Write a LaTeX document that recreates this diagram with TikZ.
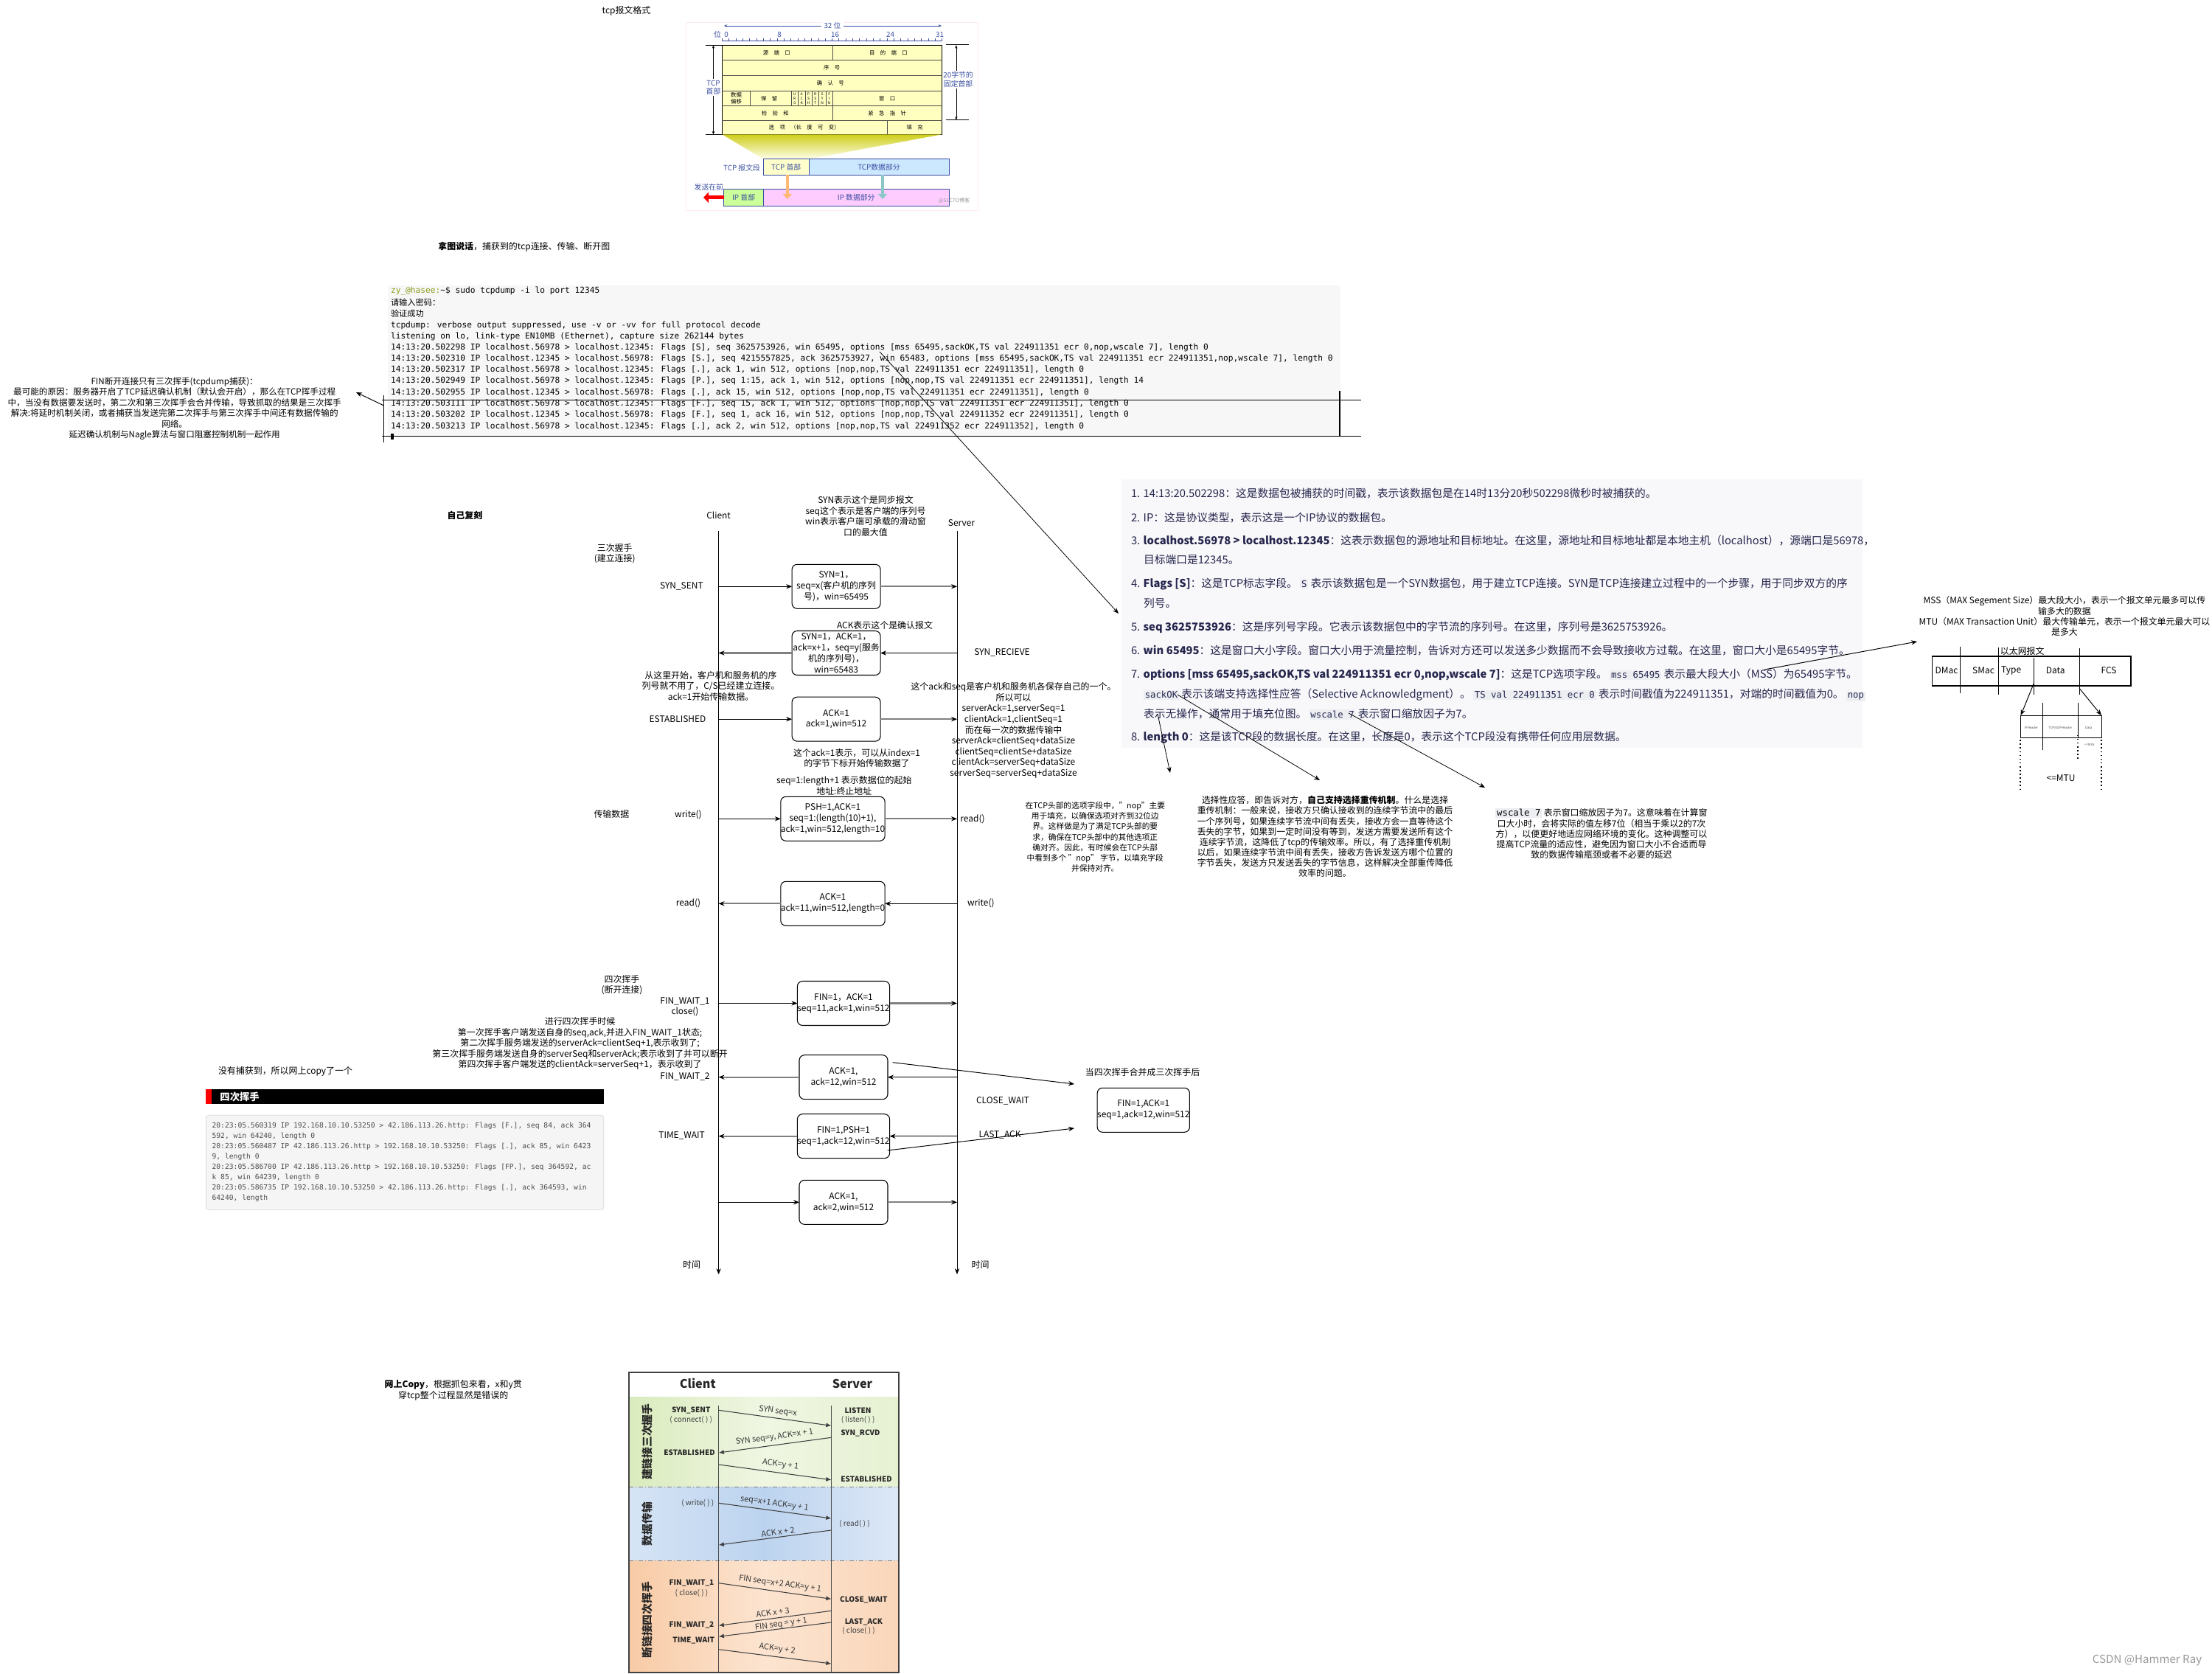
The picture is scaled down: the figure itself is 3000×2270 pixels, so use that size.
\documentclass[tikz,border=0pt]{standalone}
\usepackage{fontspec}
\setmainfont{Noto Sans CJK SC}
\newfontfamily\monofont{DejaVu Sans Mono}
\newfontfamily\cjkfont{Noto Sans CJK SC}
\usetikzlibrary{arrows.meta,calc}
\definecolor{hdrblue}{HTML}{3A4FA0}
\definecolor{tblyel}{HTML}{FFFFC0}
\definecolor{tcphdr}{HTML}{FFFFCC}
\definecolor{tcpdata}{HTML}{CCE8FF}
\definecolor{iphdr}{HTML}{CCFF99}
\definecolor{ipdata}{HTML}{FFCCFF}
\definecolor{termbg}{HTML}{F7F7F7}
\definecolor{termgreen}{HTML}{8C9C1C}
\definecolor{rtext}{HTML}{25254D}
\definecolor{codebg}{HTML}{ECEEF2}
\definecolor{rbg}{HTML}{F8F8FA}
\definecolor{bandg1}{HTML}{DAEBBD}
\definecolor{bandg2}{HTML}{E6F1D2}
\definecolor{bandgm}{HTML}{EFF6E2}
\definecolor{bandb1}{HTML}{D6E4F5}
\definecolor{bandb2}{HTML}{DDE8F6}
\definecolor{bandbm}{HTML}{BCD3EF}
\definecolor{bando1}{HTML}{F8CBA6}
\definecolor{bando2}{HTML}{F9D6BA}
\definecolor{bandom}{HTML}{FCE4D0}
\newcommand\fpx[2]{\fontsize{#1pt}{#2pt}\selectfont}
\newcommand\cspan[1]{{\setlength{\fboxsep}{1pt}\colorbox{codebg}{\monofont\fontsize{7pt}{8pt}\selectfont #1}}}
\tikzset{
  t12/.style={font=\fpx{6.8}{8.3}, align=center},
  t11/.style={font=\fpx{6.1}{8.1}, align=center},
  box/.style={draw, rounded corners=4pt, line width=0.6pt, align=center, font=\fpx{6.8}{8.5}, minimum width=2.4cm, minimum height=1.2cm},
  arr/.style={-{Stealth[length=4.5pt,width=3.6pt]}, line width=0.55pt},
  garr/.style={-{Stealth[length=4.5pt,width=3.6pt,color=black]}, draw=gray, line width=1.3pt},
  life/.style={-{Stealth[length=4.5pt,width=3.6pt]}, line width=0.5pt},
  term/.style={font=\monofont\fpx{6.38}{8}, anchor=west},
  capline/.style={font=\monofont\fpx{5.5}{7}, anchor=west, text=black!70},
  rt/.style={font=\fpx{8.4}{10}, anchor=west, text=rtext},
  tt/.style={font=\fpx{4.2}{5}, align=center},
  fl/.style={font=\fpx{2.8}{3.4}, align=center},
  hl/.style={font=\fpx{5.6}{6.4}, align=center, text=hdrblue},
  harr/.style={{Stealth[length=2.5pt,width=2pt]}-{Stealth[length=2.5pt,width=2pt]}, line width=0.35pt},
  bl/.style={font=\bfseries\fpx{5.7}{6.5}, text=black!85},
  bn/.style={font=\fpx{5.7}{6.5}, text=black!75},
  al/.style={font=\fpx{6.2}{7}, text=black!80},
  barr/.style={-{Latex[length=4pt,width=3.5pt]}, line width=0.6pt, draw=black!75},
  eth/.style={font=\fpx{6.8}{8}},
}
\begin{document}
\begin{tikzpicture}[x=0.02cm,y=-0.02cm, every node/.style={inner sep=0pt, outer sep=0pt}]
\useasboundingbox (0,0) rectangle (3000,2270);
\fill[white] (0,0) rectangle (3000,2270);

% ================= TCP header figure =================
\node[t12] (ttl) at (849.5,15) {tcp报文格式};
\draw[red!8, line width=0.4pt] (930.7,30) rectangle (1326,285);
\coordinate (h32l) at (981.8,35); \coordinate (h32r) at (1277,35);
\draw[harr, draw=hdrblue] (h32l) -- (h32r);
\node[hl, fill=white, inner xsep=2pt] (h32) at (1129,35) {32 位};
\node[hl] (nw) at (973,46.7) {位};
\node[hl] (n0) at (985,46.7) {0};
\node[hl] (n8) at (1057,46.7) {8};
\node[hl] (n16) at (1132.5,46.7) {16};
\node[hl] (n24) at (1207.5,46.7) {24};
\node[hl] (n31) at (1274.6,46.7) {31};
\draw[line width=0.35pt, hdrblue] (979.3,55) -- (1277.5,55);
\foreach \i in {0,...,32} \draw[line width=0.3pt, hdrblue] (979.3+\i*9.32,55) -- ++(0,-3);
% table
\fill[tblyel] (979.3,61.3) rectangle (1277.5,182.3);
\draw[line width=0.8pt] (979.3,61.3) rectangle (1277.5,182.3);
\foreach \y in {81.3,102.3,123.3,143.3,163.3} \draw[line width=0.4pt, black!70] (979.3,\y) -- (1277.5,\y);
\draw[line width=0.4pt, black!70] (1129.3,61.3) -- (1129.3,81.3);
\draw[line width=0.4pt, black!70] (1129.3,143.3) -- (1129.3,163.3);
\draw[line width=0.4pt, black!70] (1017,123.3) -- (1017,143.3);
\foreach \i in {0,...,6} \draw[line width=0.3pt, black!70] (1073+\i*9.38,123.3) -- ++(0,20);
\draw[line width=0.4pt, black!70] (1203,163.3) -- (1203,182.3);
\node[tt] (f1) at (1053.2,71.3) {源　端　口};
\node[tt] (f2) at (1205,71.3) {目　的　端　口};
\node[tt] (f3) at (1128.2,91.8) {序　号};
\node[tt] (f4) at (1126.4,112.8) {确　认　号};
\node[tt] (f5) at (998.6,133.3) {数据\\偏移};
\node[tt] (f6) at (1043.2,133.3) {保　留};
\node[fl] (fg1) at (1077.7,133.3) {U\\R\\G};
\node[fl] (fg2) at (1087.1,133.3) {A\\C\\K};
\node[fl] (fg3) at (1096.5,133.3) {P\\S\\H};
\node[fl] (fg4) at (1105.8,133.3) {R\\S\\T};
\node[fl] (fg5) at (1115.2,133.3) {S\\Y\\N};
\node[fl] (fg6) at (1124.6,133.3) {F\\I\\N};
\node[tt] (f7) at (1203.2,133.3) {窗　口};
\node[tt] (f8) at (1051.4,153.3) {检　验　和};
\node[tt] (f9) at (1203.2,153.3) {紧　急　指　针};
\node[tt] (f10) at (1090.7,172.8) {选　项　（长　度　可　变）};
\node[tt] (f11) at (1240.7,172.8) {填　充};
% left brace
\draw[line width=0.4pt] (956.8,61.3) -- (979.3,61.3);
\draw[line width=0.4pt] (956.8,182.3) -- (979.3,182.3);
\coordinate (tlt) at (967.5,61.3); \coordinate (tlb) at (967.5,182.3);
\draw[harr] (tlt) -- (tlb);
\node[hl, fill=white, inner ysep=1pt] (tcphl) at (967.5,118.5) {TCP\\首部};
% right brace
\draw[line width=0.4pt] (1282.5,60.7) -- (1314,60.7);
\draw[line width=0.4pt] (1282.5,162.7) -- (1314,162.7);
\coordinate (trt) at (1296.8,61.3); \coordinate (trb) at (1296.8,162.7);
\draw[harr] (trt) -- (trb);
\node[hl, fill=white, inner ysep=1pt] (fixhl) at (1299.6,107.7) {20字节的\\固定首部};
% trapezoid
\shade[top color=olive!55!yellow!70, bottom color=yellow!8] (979.3,182.3) -- (1277.5,182.3) -- (1097,215.7) -- (1035.4,215.7) -- cycle;
% segment bars
\node[draw=hdrblue, fill=tcphdr, line width=0.5pt, minimum width=1.232cm, minimum height=0.432cm, hl] (tcph) at (1066.2,226.5) {TCP 首部};
\node[draw=hdrblue, fill=tcpdata, line width=0.5pt, minimum width=3.8cm, minimum height=0.432cm, hl] (tcpd) at (1192,226.5) {TCP数据部分};
\node[hl, anchor=east] (seglbl) at (1031,228) {TCP 报文段};
\node[draw=hdrblue, fill=iphdr, line width=0.5pt, minimum width=1.072cm, minimum height=0.446cm, hl] (iph) at (1008.6,267.85) {IP 首部};
\node[draw=hdrblue, fill=ipdata, line width=0.5pt, minimum width=5.032cm, minimum height=0.446cm, hl] (ipd) at (1161.2,267.85) {IP 数据部分};
\coordinate (oa1) at (1067.9,237.3); \coordinate (oa2) at (1067.9,270);
\coordinate (ta1) at (1197,237.3); \coordinate (ta2) at (1197,270);
\draw[orange!55, line width=2.2pt, -{Triangle[length=4pt,width=7pt]}] (oa1) -- (oa2);
\draw[teal!45, line width=2.2pt, -{Triangle[length=4pt,width=7pt]}] (ta1) -- (ta2);
\coordinate (ra) at (954,267.85);
\draw[red, line width=3pt, -{Triangle[length=4pt,width=8pt]}] (iph.west) -- (ra);
\node[hl] (sendfirst) at (961.4,254) {发送在前};
\node[font=\fpx{4}{5}, text=black!40] (wm) at (1294,271.7) {@51CTO博客};

% ================= Caption =================
\node[font=\fpx{6.8}{8.3}, anchor=west] (cap1) at (594.4,334.5) {\textbf{拿图说话}，捕获到的tcp连接、传输、断开图};

% ================= Terminal =================
\fill[termbg] (526,387) rectangle (1818,593);
\node[term] (tl1) at (530,395) {\textcolor{termgreen}{zy\_@hasee:}\textasciitilde\$ sudo tcpdump -i lo port 12345};
\node[term] (tl2) at (530,410.5) {{\cjkfont 请输入密码：}};
\node[term] (tl3) at (530,425.5) {{\cjkfont 验证成功}};
\node[term] (tl4) at (530,441) {tcpdump: verbose output suppressed, use -v or -vv for full protocol decode};
\node[term] (tl5) at (530,456) {listening on lo, link-type EN10MB (Ethernet), capture size 262144 bytes};
\node[term] (tl6) at (530,471) {14:13:20.502298 IP localhost.56978 > localhost.12345: Flags [S], seq 3625753926, win 65495, options [mss 65495,sackOK,TS val 224911351 ecr 0,nop,wscale 7], length 0};
\node[term] (tl7) at (530,486.5) {14:13:20.502310 IP localhost.12345 > localhost.56978: Flags [S.], seq 4215557825, ack 3625753927, win 65483, options [mss 65495,sackOK,TS val 224911351 ecr 224911351,nop,wscale 7], length 0};
\node[term] (tl8) at (530,501.7) {14:13:20.502317 IP localhost.56978 > localhost.12345: Flags [.], ack 1, win 512, options [nop,nop,TS val 224911351 ecr 224911351], length 0};
\node[term] (tl9) at (530,516.8) {14:13:20.502949 IP localhost.56978 > localhost.12345: Flags [P.], seq 1:15, ack 1, win 512, options [nop,nop,TS val 224911351 ecr 224911351], length 14};
\node[term] (tl10) at (530,532.2) {14:13:20.502955 IP localhost.12345 > localhost.56978: Flags [.], ack 15, win 512, options [nop,nop,TS val 224911351 ecr 224911351], length 0};
\node[term] (tl11) at (530,547.5) {14:13:20.503111 IP localhost.56978 > localhost.12345: Flags [F.], seq 15, ack 1, win 512, options [nop,nop,TS val 224911351 ecr 224911351], length 0};
\node[term] (tl12) at (530,562.7) {14:13:20.503202 IP localhost.12345 > localhost.56978: Flags [F.], seq 1, ack 16, win 512, options [nop,nop,TS val 224911352 ecr 224911351], length 0};
\node[term] (tl13) at (530,578) {14:13:20.503213 IP localhost.56978 > localhost.12345: Flags [.], ack 2, win 512, options [nop,nop,TS val 224911352 ecr 224911352], length 0};
\node[fill=black, minimum width=0.09cm, minimum height=0.17cm] (cursor) at (532,592) {};
% bracket lines
\coordinate (bk1) at (518,542.3); \coordinate (bk2) at (1846,542.3);
\coordinate (bk3) at (518,591.7); \coordinate (bk4) at (1846,591.7);
\coordinate (bk5) at (520.6,536); \coordinate (bk6) at (520.6,600);
\coordinate (bk7) at (1817,530); \coordinate (bk8) at (1817,591.7);
\draw[line width=0.6pt] (bk1) -- (bk2);
\draw[line width=0.6pt] (bk3) -- (bk4);
\draw[line width=0.6pt] (bk5) -- (bk6);
\draw[line width=0.6pt] (bk7) -- (bk8);
\coordinate (la1) at (520.6,550); \coordinate (la2) at (483,532);
\draw[arr] (la1) -- (la2);
\coordinate (dg1) at (1193,477); \coordinate (dg2) at (1517,832);
\draw[arr, line width=0.45pt] (dg1) -- (dg2);

% left note
\node[font=\fpx{6.6}{8.2}, align=center] (lnote) at (236.7,554) {FIN断开连接只有三次挥手(tcpdump捕获)：\\最可能的原因：服务器开启了TCP延迟确认机制（默认会开启），那么在TCP挥手过程\\中，当没有数据要发送时，第二次和第三次挥手会合并传输，导致抓取的结果是三次挥手\\解决:将延时机制关闭，或者捕获当发送完第二次挥手与第三次挥手中间还有数据传输的\\网络。\\延迟确认机制与Nagle算法与窗口阻塞控制机制一起作用};

% ================= Sequence diagram =================
\node[font=\bfseries\fpx{6.8}{8.3}] (self) at (630.4,699.3) {自己复刻};
\node[t12] (client) at (974.6,699.3) {Client};
\node[t12] (server) at (1304,709) {Server};
\coordinate (cT) at (974.6,720); \coordinate (cB) at (974.6,1728);
\coordinate (sT) at (1298,720); \coordinate (sB) at (1298,1728);
\draw[life] (cT) -- (cB);
\draw[life] (sT) -- (sB);
\node[t12] (synnote) at (1174,700) {SYN表示这个是同步报文\\seq这个表示是客户端的序列号\\win表示客户端可承载的滑动窗\\口的最大值};
\node[t12] (hs3) at (833.7,750.5) {三次握手\\(建立连接)};
\node[t12] (synsent) at (924.4,795) {SYN\_SENT};
\node[box] (b1) at (1134.1,795.3) {SYN=1，\\seq=x(客户机的序列\\号)，win=65495};
\draw[arr] (b1.west -| cT) -- (b1.west);
\draw[garr] (b1.east) -- (b1.east -| sT);
\node[t12] (acknote) at (1200,848.3) {ACK表示这个是确认报文};
\node[box] (b2) at (1134.1,885.5) {SYN=1，ACK=1，\\ack=x+1，seq=y(服务\\机的序列号)，\\win=65483};
\draw[arr] (b2.east -| sT) -- (b2.east);
\draw[garr] (b2.west) -- (b2.west -| cT);
\node[t12] (synrcv) at (1359,885) {SYN\_RECIEVE};
\node[t12] (fromhere) at (964,930.3) {从这里开始，客户机和服务机的序\\列号就不用了，C/S已经建立连接。\\ack=1开始传输数据。};
\node[t12] (estab) at (919,975) {ESTABLISHED};
\node[box] (b3) at (1134.1,975.2) {ACK=1\\ack=1,win=512};
\draw[arr] (b3.west -| cT) -- (b3.west);
\draw[garr] (b3.east) -- (b3.east -| sT);
\node[t12] (csnote) at (1374.5,990.3) {这个ack和seq是客户机和服务机各保存自己的一个。\\所以可以\\serverAck=1,serverSeq=1\\clientAck=1,clientSeq=1\\而在每一次的数据传输中\\serverAck=clientSeq+dataSize\\clientSeq=clientSe+dataSize\\clientAck=serverSeq+dataSize\\serverSeq=serverSeq+dataSize};
\node[t12] (ack1note) at (1162,1028) {这个ack=1表示，可以从index=1\\的字节下标开始传输数据了};
\node[t12] (seqnote) at (1144.8,1065.5) {seq=1:length+1 表示数据位的起始\\地址:终止地址};
\node[t12] (trans) at (829.4,1104.3) {传输数据};
\node[t12] (wr1) at (933.5,1105) {write()};
\node[box] (b4) at (1129.5,1110.3) {PSH=1,ACK=1\\seq=1:(length(10)+1),\\ack=1,win=512,length=10};
\draw[arr] (b4.west -| cT) -- (b4.west);
\draw[garr] (b4.east) -- (b4.east -| sT);
\node[t12] (rd1) at (1319,1110.7) {read()};
\node[t12] (rd2) at (933.5,1225) {read()};
\node[box] (b5) at (1129.5,1225.3) {ACK=1\\ack=11,win=512,length=0};
\draw[arr] (b5.east -| sT) -- (b5.east);
\draw[garr] (b5.west) -- (b5.west -| cT);
\node[t12] (wr2) at (1330.4,1225) {write()};
\node[t12] (hs4) at (843.5,1335.5) {四次挥手\\(断开连接)};
\node[t12] (fw1) at (929,1365.3) {FIN\_WAIT\_1\\close()};
\node[box] (b6) at (1144,1360.5) {FIN=1，ACK=1\\seq=11,ack=1,win=512};
\draw[arr] (b6.west -| cT) -- (b6.west);
\draw[garr] (b6.east) -- (b6.east -| sT);
\node[t12] (para4) at (786.6,1415) {进行四次挥手时候\\第一次挥手客户端发送自身的seq,ack,并进入FIN\_WAIT\_1状态;\\第二次挥手服务端发送的serverAck=clientSeq+1,表示收到了;\\第三次挥手服务端发送自身的serverSeq和serverAck;表示收到了并可以断开\\第四次挥手客户端发送的clientAck=serverSeq+1，表示收到了};
\node[t12] (fw2) at (929,1460) {FIN\_WAIT\_2};
\node[box] (b7) at (1144,1460.7) {ACK=1,\\ack=12,win=512};
\draw[arr] (b7.east -| sT) -- (b7.east);
\draw[garr] (b7.west) -- (b7.west -| cT);
\node[t12] (merge) at (1549.6,1454) {当四次挥手合并成三次挥手后};
\node[box] (b8) at (1550.8,1505.3) {FIN=1,ACK=1\\seq=1,ack=12,win=512};
\node[t12] (clw) at (1360,1492.7) {CLOSE\_WAIT};
\node[t12] (tw) at (924.6,1540) {TIME\_WAIT};
\node[box] (b9) at (1144,1540.7) {FIN=1,PSH=1\\seq=1,ack=12,win=512};
\draw[arr] (b9.east -| sT) -- (b9.east);
\draw[garr] (b9.west) -- (b9.west -| cT);
\node[t12] (lack) at (1356,1539.3) {LAST\_ACK};
\coordinate (m1s) at (1210.7,1440.7); \coordinate (m1e) at (1457,1470);
\draw[arr] (m1s) -- (m1e);
\coordinate (m2s) at (1203.7,1560); \coordinate (m2e) at (1457,1530);
\draw[arr] (m2s) -- (m2e);
\node[box] (b10) at (1144,1630.3) {ACK=1,\\ack=2,win=512};
\draw[arr] (b10.west -| cT) -- (b10.west);
\draw[garr] (b10.east) -- (b10.east -| sT);
\node[t12] (time1) at (938,1715) {时间};
\node[t12] (time2) at (1329.5,1715) {时间};

% ================= Four-wave capture =================
\node[t12] (nocap) at (387,1452.7) {没有捕获到，所以网上copy了一个};
\fill[black] (279.4,1477.3) rectangle (818.7,1496.7);
\fill[red] (279.4,1477.3) rectangle (286.6,1496.7);
\node[font=\bfseries\fpx{7.6}{9}, text=white, anchor=west] (fourbar) at (298.4,1487) {四次挥手};
\draw[gray!30, fill=gray!8, rounded corners=2pt] (279.4,1512.3) rectangle (818.7,1640.7);
\node[capline] (c1) at (287.6,1526.7) {20:23:05.560319 IP 192.168.10.10.53250 > 42.186.113.26.http: Flags [F.], seq 84, ack 364};
\node[capline] (c2) at (287.6,1540.7) {592, win 64240, length 0};
\node[capline] (c3) at (287.6,1555) {20:23:05.560487 IP 42.186.113.26.http > 192.168.10.10.53250: Flags [.], ack 85, win 6423};
\node[capline] (c4) at (287.6,1569) {9, length 0};
\node[capline] (c5) at (287.6,1583.3) {20:23:05.586700 IP 42.186.113.26.http > 192.168.10.10.53250: Flags [FP.], seq 364592, ac};
\node[capline] (c6) at (287.6,1596.7) {k 85, win 64239, length 0};
\node[capline] (c7) at (287.6,1611) {20:23:05.586735 IP 192.168.10.10.53250 > 42.186.113.26.http: Flags [.], ack 364593, win};
\node[capline] (c8) at (287.6,1625) {64240, length};

% ================= Right explanation block =================
\fill[rbg] (1521,650) rectangle (2526,1014);
\node[rt] (r1) at (1534,669.3) {1. 14:13:20.502298：这是数据包被捕获的时间戳，表示该数据包是在14时13分20秒502298微秒时被捕获的。};
\node[rt] (r2) at (1534,701.7) {2. IP：这是协议类型，表示这是一个IP协议的数据包。};
\node[rt] (r3) at (1534,733.3) {3. \textbf{localhost.56978 > localhost.12345}：这表示数据包的源地址和目标地址。在这里，源地址和目标地址都是本地主机（localhost），源端口是56978，};
\node[rt] (r3b) at (1551,759.3) {目标端口是12345。};
\node[rt] (r4) at (1534,791.7) {4. \textbf{Flags [S]}：这是TCP标志字段。 \cspan{S} 表示该数据包是一个SYN数据包，用于建立TCP连接。SYN是TCP连接建立过程中的一个步骤，用于同步双方的序};
\node[rt] (r4b) at (1551,818.3) {列号。};
\node[rt] (r5) at (1534,851) {5. \textbf{seq 3625753926}：这是序列号字段。它表示该数据包中的字节流的序列号。在这里，序列号是3625753926。};
\node[rt] (r6) at (1534,882.3) {6. \textbf{win 65495}：这是窗口大小字段。窗口大小用于流量控制，告诉对方还可以发送多少数据而不会导致接收方过载。在这里，窗口大小是65495字节。};
\node[rt] (r7) at (1534,915) {7. \textbf{options [mss 65495,sackOK,TS val 224911351 ecr 0,nop,wscale 7]}：这是TCP选项字段。 \cspan{mss 65495} 表示最大段大小（MSS）为65495字节。};
\node[rt] (r7b) at (1551,942.7) {\cspan{sackOK} 表示该端支持选择性应答（Selective Acknowledgment）。 \cspan{TS val 224911351 ecr 0} 表示时间戳值为224911351，对端的时间戳值为0。 \cspan{nop}};
\node[rt] (r7c) at (1551,968.3) {表示无操作，通常用于填充位图。 \cspan{wscale 7} 表示窗口缩放因子为7。};
\node[rt] (r8) at (1534,1000) {8. \textbf{length 0}：这是该TCP段的数据长度。在这里，长度是0，表示这个TCP段没有携带任何应用层数据。};

% pointers to notes
\coordinate (pa1) at (1570,968); \coordinate (pa2) at (1587,1048);
\coordinate (pb1) at (1597,942); \coordinate (pb2) at (1790,1058);
\coordinate (pc1) at (1829,967); \coordinate (pc2) at (2014,1068);
\draw[arr, line width=0.45pt] (pa1) -- (pa2);
\draw[arr, line width=0.45pt] (pb1) -- (pb2);
\draw[arr, line width=0.45pt] (pc1) -- (pc2);

% notes
\node[t11] (nopnote) at (1485.3,1135) {在TCP头部的选项字段中，"nop"主要\\用于填充，以确保选项对齐到32位边\\界。这样做是为了满足TCP头部的要\\求，确保在TCP头部中的其他选项正\\确对齐。因此，有时候会在TCP头部\\中看到多个 "nop" 字节，以填充字段\\并保持对齐。};
\node[font=\fpx{6.8}{8}, align=center] (sacknote) at (1797,1134.5) {选择性应答，即告诉对方，\textbf{自己支持选择重传机制}。什么是选择\\重传机制：一般来说，接收方只确认接收到的连续字节流中的最后\\一个序列号，如果连续字节流中间有丢失，接收方会一直等待这个\\丢失的字节，如果到一定时间没有等到，发送方需要发送所有这个\\连续字节流，这降低了tcp的传输效率。所以，有了选择重传机制\\以后，如果连续字节流中间有丢失，接收方告诉发送方哪个位置的\\字节丢失，发送方只发送丢失的字节信息，这样解决全部重传降低\\效率的问题。};
\node[font=\fpx{6.8}{8}, align=center] (wsnote) at (2172,1130) {\cspan{wscale 7} 表示窗口缩放因子为7。这意味着在计算窗\\口大小时，会将实际的值左移7位（相当于乘以2的7次\\方），以便更好地适应网络环境的变化。这种调整可以\\提高TCP流量的适应性，避免因为窗口大小不合适而导\\致的数据传输瓶颈或者不必要的延迟};

% ================= MSS / Ethernet =================
\node[font=\fpx{6.8}{8.1}, align=center] (mssnote) at (2800,835.5) {MSS（MAX Segement Size）最大段大小，表示一个报文单元最多可以传\\输多大的数据\\MTU（MAX Transaction Unit）最大传输单元，表示一个报文单元最大可以\\是多大};
\coordinate (ms1) at (2393,908); \coordinate (ms2) at (2600,870);
\draw[arr] (ms1) -- (ms2);
\node[eth] (ethlbl) at (2742.7,882.7) {以太网报文};
\node[draw, line width=0.6pt, minimum width=5.4cm, minimum height=0.8cm] (ethf) at (2755,910) {};
\draw[line width=0.5pt] (2658.3,877.3) -- (2658.3,940);
\draw[line width=0.5pt] (2710.7,878) -- (2710.7,941.7);
\draw[line width=0.5pt] (2758.3,891.7) -- (2758.3,941.7);
\draw[line width=0.5pt] (2820,879) -- (2820,941.7);
\node[eth] (e1) at (2640,909.3) {DMac};
\node[eth] (e2) at (2690,909.3) {SMac};
\node[eth] (e3) at (2727.7,909.3) {Type};
\node[eth] (e4) at (2787.7,909.3) {Data};
\node[eth] (e5) at (2860,909.3) {FCS};
\node[draw, line width=0.5pt, minimum width=2.186cm, minimum height=0.6cm] (segb) at (2795.35,985) {};
\coordinate (ea1) at (2758.3,926.7); \coordinate (ea2) at (2820,933.3);
\draw[arr] (ea1) -- (segb.north west);
\draw[arr] (ea2) -- (segb.north east);
\draw[line width=0.4pt] (2770,953.3) -- (2770,1016.7);
\draw[line width=0.4pt] (2818.3,953.3) -- (2818.3,1000);
\node[font=\fpx{2.4}{3}, text=black!70] (s1) at (2755,986.7) {IPHeader};
\node[font=\fpx{2.4}{3}, text=black!70] (s2) at (2794.3,986.7) {TCP/UDPHeader};
\node[font=\fpx{2.4}{3}, text=black!70] (s3) at (2832.7,986.7) {Data};
\node[font=\fpx{2.4}{3}, text=black!70] (s4) at (2834,1010) {<=MSS};
\draw[dotted, line width=0.9pt] (2740,1003.3) -- (2740,1070);
\draw[dotted, line width=0.9pt] (2850,1003.3) -- (2850,1070);
\draw[dotted, line width=0.9pt] (2817.7,996.7) -- (2817.7,1030);
\node[eth] (mtu) at (2795,1055) {<=MTU};

% ================= Bottom copied diagram =================
\node[t12] (copynote) at (614.7,1885.5) {\textbf{网上Copy}，根据抓包来看，x和y贯\\穿tcp整个过程显然是错误的};
\fill[white] (853.4,1860.7) rectangle (1219.4,1894);
\shade[left color=bandg1, right color=bandg2, middle color=bandgm] (853.4,1894) rectangle (1219.4,2016.7);
\shade[left color=bandb1, right color=bandb2, middle color=bandbm] (853.4,2016.7) rectangle (1219.4,2116);
\shade[left color=bando1, right color=bando2, middle color=bandom] (853.4,2116) rectangle (1219.4,2268.3);
\draw[dash dot, gray, line width=0.5pt] (853.4,2016.7) -- (1219.4,2016.7);
\draw[dash dot, gray, line width=0.5pt] (853.4,2116) -- (1219.4,2116);
\draw[line width=1.1pt, black!75] (853.4,1860.7) rectangle (1219.4,2268.3);
\node[font=\bfseries\fpx{9.2}{10}, text=black!85] (bclient) at (946.3,1876) {Client};
\node[font=\bfseries\fpx{9.2}{10}, text=black!85] (bserver) at (1156,1876) {Server};
\node[rotate=90, font=\bfseries\fpx{8.4}{9}, text=black!85] (v1) at (878.3,1955.3) {建链接三次握手};
\node[rotate=90, font=\bfseries\fpx{8.4}{9}, text=black!85] (v2) at (878.3,2066.7) {数据传输};
\node[rotate=90, font=\bfseries\fpx{8.4}{9}, text=black!85] (v3) at (878.3,2196.7) {断链接四次挥手};
\coordinate (bcT) at (974.8,1906); \coordinate (bcB) at (974.8,2267.5);
\coordinate (bsT) at (1127.4,1906); \coordinate (bsB) at (1127.4,2267.5);
\draw[line width=0.6pt, black!70] (bcT) -- (bcB);
\draw[line width=0.6pt, black!70] (bsT) -- (bsB);
\node[bl] (bl1) at (937.2,1912.3) {SYN\_SENT};
\node[bn] (bl2) at (937.2,1925.3) {( connect( ) )};
\node[bl] (bl3) at (1163.6,1912.3) {LISTEN};
\node[bn] (bl4) at (1163.6,1925.3) {( listen( ) )};
\node[bl] (bl5) at (1166.8,1944) {SYN\_RCVD};
\node[bl] (bl6) at (935,1969.3) {ESTABLISHED};
\node[bl] (bl7) at (1175,2005.7) {ESTABLISHED};
\node[bn] (bl8) at (946.3,2038.3) {( write( ) )};
\node[bn] (bl9) at (1159,2066) {( read( ) )};
\node[bl] (bl10) at (938,2146.7) {FIN\_WAIT\_1};
\node[bn] (bl11) at (938,2160) {( close( ) )};
\node[bl] (bl12) at (1171.3,2169.3) {CLOSE\_WAIT};
\node[bl] (bl13) at (1171.3,2199.3) {LAST\_ACK};
\node[bn] (bl14) at (1164.6,2211.7) {( close( ) )};
\node[bl] (bl15) at (938,2203.3) {FIN\_WAIT\_2};
\node[bl] (bl16) at (940.8,2225) {TIME\_WAIT};
\coordinate (p1a) at (974.8,1912.3); \coordinate (p1b) at (1127.4,1933.3);
\coordinate (p2a) at (1127.4,1949.3); \coordinate (p2b) at (974.8,1970);
\coordinate (p3a) at (974.8,1986); \coordinate (p3b) at (1127.4,2006.7);
\coordinate (p4a) at (974.8,2038.3); \coordinate (p4b) at (1127.4,2059);
\coordinate (p5a) at (1127.4,2075); \coordinate (p5b) at (974.8,2095);
\coordinate (p6a) at (974.8,2146.7); \coordinate (p6b) at (1127.4,2168.3);
\coordinate (p7a) at (1127.4,2184.3); \coordinate (p7b) at (974.8,2204.3);
\coordinate (p8a) at (1127.4,2200); \coordinate (p8b) at (974.8,2219.3);
\coordinate (p9a) at (974.8,2236.7); \coordinate (p9b) at (1127.4,2256);
\draw[barr] (p1a) -- (p1b); \draw[barr] (p2a) -- (p2b); \draw[barr] (p3a) -- (p3b);
\draw[barr] (p4a) -- (p4b); \draw[barr] (p5a) -- (p5b); \draw[barr] (p6a) -- (p6b);
\draw[barr] (p7a) -- (p7b); \draw[barr] (p8a) -- (p8b); \draw[barr] (p9a) -- (p9b);
\node[al, rotate=-7.8] (al1) at (1055,1914) {SYN seq=x};
\node[al, rotate=7.8] (al2) at (1050.5,1949) {SYN seq=y, ACK=x + 1};
\node[al, rotate=-7.8] (al3) at (1058.6,1986.3) {ACK=y + 1};
\node[al, rotate=-7.8] (al4) at (1050.4,2039) {seq=x+1 ACK=y + 1};
\node[al, rotate=7.8] (al5) at (1055,2077.3) {ACK x + 2};
\node[al, rotate=-7.8] (al6) at (1058,2148) {FIN seq=x+2 ACK=y + 1};
\node[al, rotate=7.8] (al7) at (1048,2186.3) {ACK x + 3};
\node[al, rotate=7.8] (al8) at (1059.5,2202.8) {FIN seq = y + 1};
\node[al, rotate=-7.8] (al9) at (1054,2236.3) {ACK=y + 2};

\node[font=\fpx{8.6}{10}, text=black!40] (csdn) at (2912,2252) {CSDN @Hammer Ray};
\end{tikzpicture}
\end{document}
